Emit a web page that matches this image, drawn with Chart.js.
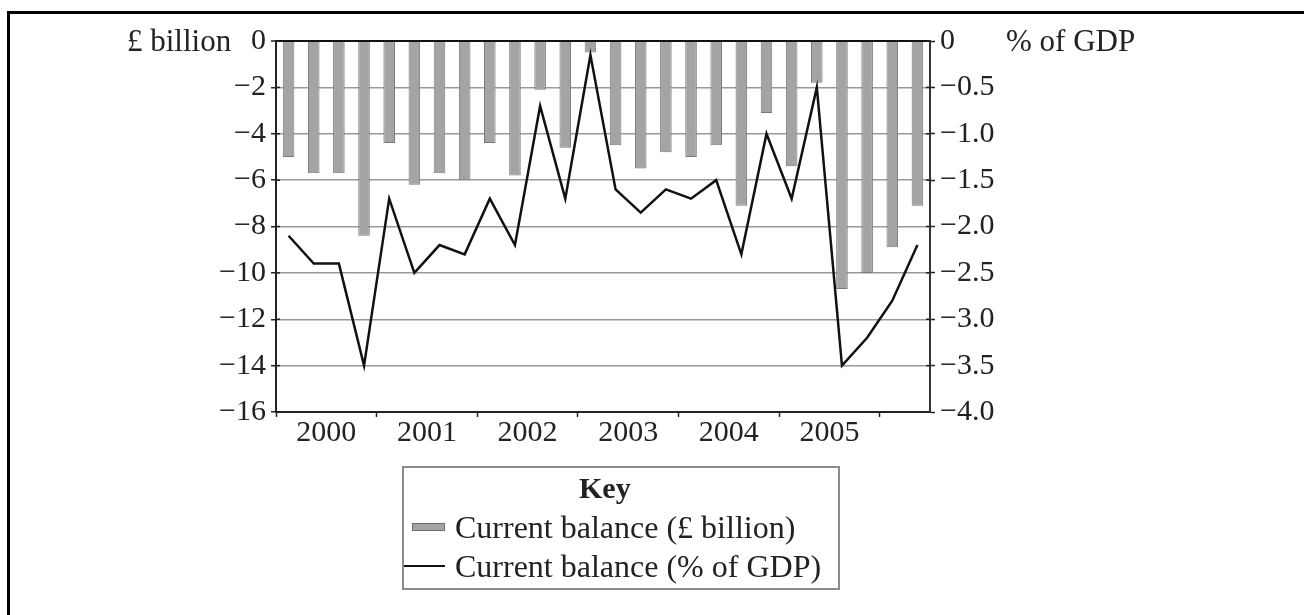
<!DOCTYPE html>
<html>
<head>
<meta charset="utf-8">
<script src="https://cdn.jsdelivr.net/npm/chart.js@4"></script>
<style>
  html, body { margin: 0; padding: 0; background: #fff; }
  body { width: 1304px; height: 615px; position: relative; overflow: hidden;
         font-family: "Liberation Serif", "Times New Roman", serif; color: #222; }
  #frame { position: absolute; left: 7px; top: 11px; width: 1300px; height: 610px;
           border-left: 3px solid #000; border-top: 3px solid #000; }
  #wrap { position: absolute; left: 0; top: 0; width: 1304px; height: 615px; }
  .unit { position: absolute; font-size: 31px; line-height: 31px; white-space: nowrap; }
  #key { position: absolute; left: 402px; top: 466px; width: 434px; height: 120px;
         border: 2px solid #8c8c8c; font-size: 32px; }
  #key .title { position: absolute; left: 175px; top: 5px; font-weight: bold; font-size: 30px; line-height: 30px; }
  #key .row { position: absolute; left: 0; white-space: nowrap; line-height: 32px; }
  #key .row span { position: absolute; left: 51px; top: 0; }
  .swatch-bar { position: absolute; left: 8px; top: 12px; width: 31px; height: 6px;
                background: #a4a4a4; border: 1px solid #6e6e6e; }
  .swatch-line { position: absolute; left: 0; top: 15px; width: 41px; height: 2px; background: #111; }
</style>
</head>
<body>
<div id="frame"></div>
<div id="wrap"><canvas id="balanceChart" width="1304" height="615"></canvas></div>
<div class="unit" style="left:127px; top:25px;">£ billion</div>
<div class="unit" style="left:1006px; top:25px;">% of GDP</div>
<div id="key">
  <div class="title">Key</div>
  <div class="row" style="top:43px;"><div class="swatch-bar"></div><span>Current balance (£ billion)</span></div>
  <div class="row" style="top:82px;"><div class="swatch-line"></div><span>Current balance (% of GDP)</span></div>
</div>
<script>
// quarterly UK current account, 2000 Q1 to 2006 Q2
const quarters = [
  '2000 Q1', '2000 Q2', '2000 Q3', '2000 Q4',
  '2001 Q1', '2001 Q2', '2001 Q3', '2001 Q4',
  '2002 Q1', '2002 Q2', '2002 Q3', '2002 Q4',
  '2003 Q1', '2003 Q2', '2003 Q3', '2003 Q4',
  '2004 Q1', '2004 Q2', '2004 Q3', '2004 Q4',
  '2005 Q1', '2005 Q2', '2005 Q3', '2005 Q4',
  '2006 Q1', '2006 Q2'
];
const years = ['2000', '2001', '2002', '2003', '2004', '2005'];

// £ billion (left axis)
const balanceBillion = [
  -5.0, -5.7, -5.7, -8.4,
  -4.4, -6.2, -5.7, -6.0,
  -4.4, -5.8, -2.1, -4.6,
  -0.5, -4.5, -5.5, -4.8,
  -5.0, -4.5, -7.1, -3.1,
  -5.4, -1.8, -10.7, -10.0,
  -8.9, -7.1
];

// % of GDP (right axis)
const balancePctGdp = [
  -2.1, -2.4, -2.4, -3.5,
  -1.7, -2.5, -2.2, -2.3,
  -1.7, -2.2, -0.7, -1.7,
  -0.15, -1.6, -1.85, -1.6,
  -1.7, -1.5, -2.3, -1.0,
  -1.7, -0.5, -3.5, -3.2,
  -2.8, -2.2
];

const FONT = { family: '"Liberation Serif", "Times New Roman", serif', size: 30 };

function minusLabel(v, digits) {
  if (v === 0) return '0';
  return '\u2212' + Math.abs(v).toFixed(digits);
}

// short tick marks on the inner side of both value axes
const innerTicks = {
  id: 'innerTicks',
  afterDraw(chart) {
    const c = chart.ctx;
    c.save();
    c.strokeStyle = '#222';
    c.lineWidth = 1.5;
    ['y', 'y1'].forEach(id => {
      const s = chart.scales[id];
      const dir = id === 'y' ? 1 : -1;
      const x0 = id === 'y' ? s.right : s.left;
      s.ticks.forEach(t => {
        const py = s.getPixelForValue(t.value);
        c.beginPath();
        c.moveTo(x0, py);
        c.lineTo(x0 + dir * 4, py);
        c.stroke();
      });
    });
    c.restore();
  }
};

const ctx = document.getElementById('balanceChart').getContext('2d');

new Chart(ctx, {
  data: {
    labels: quarters,
    datasets: [
      {
        type: 'line',
        label: 'Current balance (% of GDP)',
        data: balancePctGdp,
        yAxisID: 'y1',
        borderColor: '#111',
        borderWidth: 2.5,
        pointRadius: 0,
        tension: 0,
        order: 0
      },
      {
        type: 'bar',
        label: 'Current balance (£ billion)',
        data: balanceBillion,
        yAxisID: 'y',
        backgroundColor: '#a4a4a4',
        borderColor: '#7a7a7a',
        borderWidth: 1,
        categoryPercentage: 1.0,
        barPercentage: 0.46,
        order: 1
      }
    ]
  },
  options: {
    responsive: false,
    animation: false,
    devicePixelRatio: 1,
    layout: { padding: { top: 41, left: 0, right: 0, bottom: 0 } },
    plugins: {
      legend: { display: false },
      tooltip: { enabled: false }
    },
    scales: {
      x: {
        type: 'category',
        offset: true,
        afterFit: s => { s.height = 203; },
        border: { display: true, color: '#222', width: 2 },
        grid: {
          offset: true,
          drawOnChartArea: false,
          drawTicks: true,
          tickLength: 5,
          tickWidth: 1.5,
          tickColor: c => (c.index % 4 === 0 ? '#222' : 'rgba(0,0,0,0)')
        },
        ticks: {
          autoSkip: false,
          maxRotation: 0,
          minRotation: 0,
          padding: -2,
          color: '#222',
          font: FONT,
          labelOffset: 12.6,
          callback: (v, i) => (i % 4 === 1 && i < 24 ? years[(i - 1) / 4] : '')
        }
      },
      y: {
        position: 'left',
        min: -16,
        max: 0,
        afterFit: s => { s.width = 276; },
        border: { display: true, color: '#222', width: 2 },
        grid: {
          color: c => (c.tick.value === 0 ? '#111' : '#999'),
          lineWidth: c => (c.tick.value === 0 ? 2 : 1.5),
          tickColor: '#222',
          tickLength: 5,
          tickWidth: 1.5
        },
        ticks: {
          stepSize: 2,
          padding: 5,
          color: '#222',
          font: FONT,
          callback: v => minusLabel(v, 0)
        }
      },
      y1: {
        position: 'right',
        min: -4,
        max: 0,
        afterFit: s => { s.width = 374; },
        border: { display: true, color: '#333', width: 2 },
        grid: {
          drawOnChartArea: false,
          tickColor: '#222',
          tickLength: 5,
          tickWidth: 1.5
        },
        ticks: {
          stepSize: 0.5,
          padding: 5,
          color: '#222',
          font: FONT,
          callback: v => (v === 0 ? '0' : minusLabel(v, 1))
        }
      }
    }
  },
  plugins: [innerTicks]
});
</script>
</body>
</html>
